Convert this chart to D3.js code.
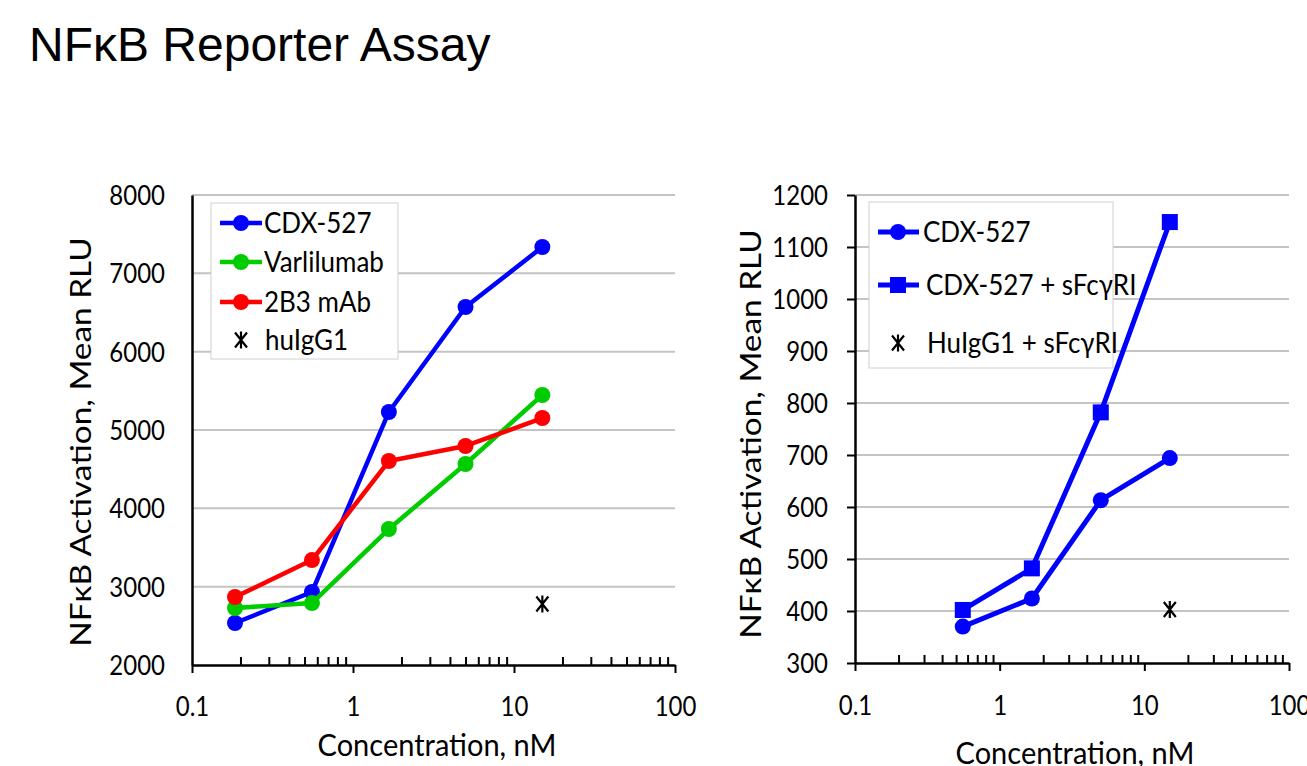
<!DOCTYPE html>
<html>
<head>
<meta charset="utf-8">
<script src="https://cdn.jsdelivr.net/npm/d3@7"></script>
<style>
  html, body { margin: 0; padding: 0; background: #fff; }
  svg { display: block; }
  text { font-family: "Lato", "Open Sans", sans-serif; fill: #000; }
</style>
</head>
<body>
<svg id="chart" width="1307" height="766"></svg>
<script>
// ---------- DATA ----------
const titleText = "NF\u03BAB Reporter Assay";
const xTitle = "Concentration, nM";
const yTitle = "NF\u03BAB Activation, Mean RLU";
const xTickLabels = [0.1, 1, 10, 100];

// Left panel
const leftConc = [0.185, 0.556, 1.67, 5, 15];
const leftNames = ["CDX-527", "Varlilumab", "2B3 mAb", "huIgG1"];
const leftCDX527 = [2536, 2932, 5230, 6570, 7336];
const leftVarlilumab = [2728, 2791, 3736, 4566, 5447];
const left2B3 = [2868, 3340, 4604, 4796, 5153];
const leftHuIgG1Conc = [15];
const leftHuIgG1 = [2779];
const leftYTicks = [2000, 3000, 4000, 5000, 6000, 7000, 8000];

// Right panel
const rightConc = [0.556, 1.67, 5, 15];
const rightNames = ["CDX-527", "CDX-527 + sFc\u03B3RI", "HuIgG1 + sFc\u03B3RI"];
const rightCDX527 = [370, 424, 613, 694];
const rightCDX527sFc = [402, 482, 782, 1148];
const rightHuIgG1Conc = [15];
const rightHuIgG1sFc = [403];
const rightYTicks = [300, 400, 500, 600, 700, 800, 900, 1000, 1100, 1200];

// ---------- DRAW ----------
const svg = d3.select("#chart");
const TICK_FS = 24, TICK_SY = 1.1;
const LEG_FS = 26, LEG_SY = 1.08;
const TITLE_FS = 29;
const BLUE = "#0000ff", GREEN = "#00cc00", RED = "#ff0000";

svg.append("text")
  .attr("x", 29).attr("y", 61)
  .style("font-family", "'Liberation Sans', Arial, sans-serif")
  .style("font-size", "48px")
  .text(titleText);

const starPath = "M0,-8.5 L0,8.5 M-6,-7.5 L6,7.5 M-6,7.5 L6,-7.5";

function minorTicks(lo, hi) {
  const out = [];
  for (let e = Math.log10(lo); e < Math.log10(hi) - 1e-9; e++) {
    for (let k = 2; k <= 9; k++) out.push(k * Math.pow(10, Math.round(e)));
  }
  return out;
}

// place a text centred vertically at (tx, ty) and stretch it vertically
function stretchText(sel, tx, ty, fs, sy) {
  sel.attr("x", 0).attr("y", 0).attr("dy", "0.36em")
    .style("font-size", fs + "px")
    .attr("transform", `translate(${tx},${ty}) scale(1,${sy})`);
}

function panel(cfg) {
  const x = d3.scaleLog().domain([0.1, 100]).range([cfg.x0, cfg.x1]);
  const y = d3.scaleLinear().domain([cfg.yTicks[0], cfg.yTicks[cfg.yTicks.length - 1]]).range([cfg.y0, cfg.y1]);
  const g = svg.append("g");

  // gridlines
  g.append("g").selectAll("line")
    .data(cfg.yTicks.slice(1))
    .join("line")
    .attr("x1", cfg.x0).attr("x2", cfg.x1)
    .attr("y1", d => y(d)).attr("y2", d => y(d))
    .attr("stroke", "#c4c4c4").attr("stroke-width", 2);

  // minor x ticks (inside)
  const minor = g.append("g").attr("transform", `translate(0,${cfg.y0})`)
    .call(d3.axisBottom(x).tickValues(minorTicks(0.1, 100)).tickSizeInner(-8).tickSizeOuter(0).tickFormat(""));
  minor.select(".domain").remove();
  minor.selectAll("line").attr("stroke", "#000").attr("stroke-width", 2);

  // major x axis
  const xa = g.append("g").attr("transform", `translate(0,${cfg.y0})`)
    .call(d3.axisBottom(x).tickValues(xTickLabels).tickSizeInner(8).tickSizeOuter(0)
      .tickFormat(d => String(d)));
  xa.select(".domain").attr("stroke", "#000").attr("stroke-width", 2.5);
  xa.selectAll(".tick line").attr("stroke", "#000").attr("stroke-width", 2);
  xa.selectAll(".tick text").each(function () {
    stretchText(d3.select(this), 0, cfg.xLabOff, TICK_FS, TICK_SY);
  });

  // y axis
  const ya = g.append("g").attr("transform", `translate(${cfg.x0},0)`)
    .call(d3.axisLeft(y).tickValues(cfg.yTicks).tickSizeInner(cfg.yTick).tickSizeOuter(0)
      .tickFormat(d => String(d)));
  ya.select(".domain").attr("stroke", "#000").attr("stroke-width", 2.5);
  ya.selectAll(".tick line").attr("stroke", "#000").attr("stroke-width", 2);
  ya.selectAll(".tick text").each(function () {
    stretchText(d3.select(this), -cfg.yLabOff, 0, TICK_FS, TICK_SY);
  });

  // axis titles
  g.append("text").attr("text-anchor", "middle").text(xTitle)
    .call(s => stretchText(s, cfg.xtX, cfg.xtY, TITLE_FS, 1.06));
  g.append("text").attr("text-anchor", "middle").text(yTitle)
    .attr("dy", "0.36em").style("font-size", TITLE_FS + "px")
    .attr("transform", `translate(${cfg.ytX},${cfg.ytY}) rotate(-90) scale(1.15,1)`);

  const line = d3.line().x(d => x(d[0])).y(d => y(d[1]));
  cfg.series.forEach(s => {
    const pts = s.conc.map((c, i) => [c, s.values[i]]);
    if (s.marker === "star") {
      g.append("g").selectAll("path").data(pts).join("path")
        .attr("transform", d => `translate(${x(d[0])},${y(d[1])})`)
        .attr("d", starPath).attr("stroke", "#000").attr("stroke-width", 2.2).attr("fill", "none");
      return;
    }
    g.append("path").datum(pts).attr("d", line)
      .attr("fill", "none").attr("stroke", s.color).attr("stroke-width", cfg.lw)
      .attr("stroke-linejoin", "round");
    if (s.marker === "circle") {
      g.append("g").selectAll("circle").data(pts).join("circle")
        .attr("cx", d => x(d[0])).attr("cy", d => y(d[1])).attr("r", cfg.r).attr("fill", s.color);
    } else {
      g.append("g").selectAll("rect").data(pts).join("rect")
        .attr("x", d => x(d[0]) - cfg.sq / 2).attr("y", d => y(d[1]) - cfg.sq / 2)
        .attr("width", cfg.sq).attr("height", cfg.sq).attr("fill", s.color);
    }
  });

  // legend
  const L = cfg.legend;
  const lg = g.append("g");
  lg.append("rect").attr("x", L.x).attr("y", L.y).attr("width", L.w).attr("height", L.h)
    .attr("fill", "#fff").attr("stroke", "#d0d0d0").attr("stroke-width", 1);
  cfg.series.forEach((s, i) => {
    const cy = L.rows[i];
    if (s.marker === "star") {
      lg.append("path").attr("transform", `translate(${L.mx},${cy})`).attr("d", starPath)
        .attr("stroke", "#000").attr("stroke-width", 2.2).attr("fill", "none");
    } else {
      lg.append("line").attr("x1", L.lx1).attr("x2", L.lx2).attr("y1", cy).attr("y2", cy)
        .attr("stroke", s.color).attr("stroke-width", cfg.lw);
      if (s.marker === "circle") {
        lg.append("circle").attr("cx", L.mx).attr("cy", cy).attr("r", cfg.r).attr("fill", s.color);
      } else {
        lg.append("rect").attr("x", L.mx - cfg.sq / 2).attr("y", cy - cfg.sq / 2)
          .attr("width", cfg.sq).attr("height", cfg.sq).attr("fill", s.color);
      }
    }
    lg.append("text").text(s.name)
      .call(t => stretchText(t, L.tx[i], cy, LEG_FS, LEG_SY));
  });
}

panel({
  x0: 192, x1: 675, y0: 665, y1: 195,
  yTicks: leftYTicks, yTick: 0, yLabOff: 27, xLabOff: 41,
  xtX: 437, xtY: 745, ytX: 81, ytY: 442,
  lw: 4.5, r: 8, sq: 16,
  series: [
    { name: leftNames[0], conc: leftConc, values: leftCDX527, color: BLUE, marker: "circle" },
    { name: leftNames[1], conc: leftConc, values: leftVarlilumab, color: GREEN, marker: "circle" },
    { name: leftNames[2], conc: leftConc, values: left2B3, color: RED, marker: "circle" },
    { name: leftNames[3], conc: leftHuIgG1Conc, values: leftHuIgG1, color: "#000", marker: "star" }
  ],
  legend: { x: 211, y: 203, w: 187, h: 156, rows: [223, 262, 302, 340], lx1: 220, lx2: 262, mx: 241, tx: [264, 264, 264, 265] }
});

panel({
  x0: 855, x1: 1289, y0: 663, y1: 195,
  yTicks: rightYTicks, yTick: 8, yLabOff: 27, xLabOff: 42,
  xtX: 1075, xtY: 753, ytX: 751, ytY: 434,
  lw: 5, r: 8, sq: 16,
  series: [
    { name: rightNames[0], conc: rightConc, values: rightCDX527, color: BLUE, marker: "circle" },
    { name: rightNames[1], conc: rightConc, values: rightCDX527sFc, color: BLUE, marker: "square" },
    { name: rightNames[2], conc: rightHuIgG1Conc, values: rightHuIgG1sFc, color: "#000", marker: "star" }
  ],
  legend: { x: 869, y: 202, w: 244, h: 166, rows: [232, 285, 343], lx1: 878, lx2: 919, mx: 898, tx: [923, 926, 927] }
});
</script>
</body>
</html>
